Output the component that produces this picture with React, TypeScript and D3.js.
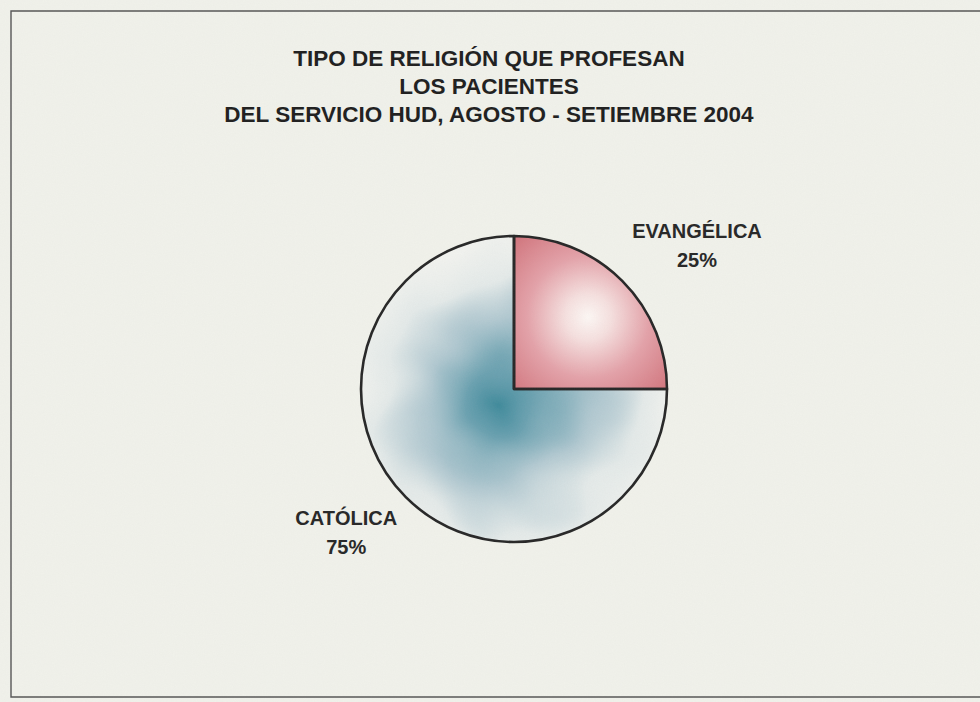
import React from "react";
import * as d3 from "d3";

const categories: string[] = ["EVANGÉLICA", "CATÓLICA"];
const values: number[] = [25, 75];
const percentLabels: string[] = ["25%", "75%"];
const titleLines: string[] = [
  "TIPO DE RELIGIÓN QUE PROFESAN",
  "LOS PACIENTES",
  "DEL  SERVICIO HUD, AGOSTO - SETIEMBRE 2004",
];

// label placement (polar, around each slice's mid angle)
const labelAngleShift: number[] = [0.12, 0.08];
const labelRadius: number[] = [1.52, 1.44];

const App = (): React.JSX.Element => {
  const width = 980;
  const height = 702;
  const cx = 514;
  const cy = 389;
  const r = 153;
  const font = "'Liberation Sans', Arial, sans-serif";

  const pie = d3.pie<number>().sort(null).startAngle(0)(values);
  const arc = d3.arc<d3.PieArcDatum<number>>().innerRadius(0).outerRadius(r);

  return (
    <svg
      width={width}
      height={height}
      style={{ position: "fixed", left: 0, top: 0, display: "block" }}
    >
      <defs>
        <radialGradient id="catGrad" gradientUnits="userSpaceOnUse" cx={cx - 8} cy={cy + 14} r={r * 1.1}>
          <stop offset="0" stopColor="#3f8a9b" />
          <stop offset="0.25" stopColor="#6aa1b0" />
          <stop offset="0.5" stopColor="#b2c9d1" />
          <stop offset="0.75" stopColor="#e4eae9" />
          <stop offset="1" stopColor="#f2f3ef" />
        </radialGradient>
        <radialGradient id="evaGrad" gradientUnits="userSpaceOnUse" cx={cx + 74} cy={cy - 72} r={105}>
          <stop offset="0" stopColor="#fdf8f5" />
          <stop offset="0.22" stopColor="#f6e0df" />
          <stop offset="0.58" stopColor="#e4a2a9" />
          <stop offset="1" stopColor="#d3777f" />
        </radialGradient>
        <filter id="cloud" x="-20%" y="-20%" width="140%" height="140%">
          <feTurbulence type="fractalNoise" baseFrequency="0.012" numOctaves="2" seed="4" result="t" />
          <feDisplacementMap in="SourceGraphic" in2="t" scale="60" xChannelSelector="R" yChannelSelector="G" />
        </filter>
        <filter id="grain">
          <feTurbulence type="fractalNoise" baseFrequency="0.9" numOctaves="1" seed="2" result="n" />
          <feColorMatrix in="n" type="matrix" values="0 0 0 0 0.4  0 0 0 0 0.4  0 0 0 0 0.4  0 0 0 0.12 0" />
        </filter>
        {pie.map((d, i) => (
          <clipPath id={`clip${i}`} key={i}>
            <path d={arc(d) as string} transform={`translate(${cx},${cy})`} />
          </clipPath>
        ))}
      </defs>

      <rect width={width} height={height} fill="#f1f2eb" />

      {/* frame */}
      <path d={`M${width},11 H11 V697 H${width}`} fill="none" stroke="#555" strokeWidth={1.4} />

      {titleLines.map((t, i) => (
        <text
          key={i}
          x={489}
          y={66 + i * 28}
          textAnchor="middle"
          fontFamily={font}
          fontWeight="bold"
          fontSize={22.5}
          fill="#1e1e1e"
        >
          {t}
        </text>
      ))}

      {pie.map((d, i) => (
        <g key={i} clipPath={`url(#clip${i})`}>
          {i === 1 ? (
            <rect x={cx - r - 40} y={cy - r - 40} width={2 * r + 80} height={2 * r + 80} fill="url(#catGrad)" filter="url(#cloud)" />
          ) : (
            <rect x={cx - 10} y={cy - r - 10} width={r + 20} height={r + 20} fill="url(#evaGrad)" />
          )}
        </g>
      ))}

      <g transform={`translate(${cx},${cy})`}>
        {pie.map((d, i) => (
          <path key={i} d={arc(d) as string} fill="none" stroke="#262626" strokeWidth={2.6} strokeLinejoin="round" />
        ))}
      </g>

      {pie.map((d, i) => {
        const a = (d.startAngle + d.endAngle) / 2 + labelAngleShift[i];
        const lr = r * labelRadius[i];
        const x = cx + Math.sin(a) * lr;
        const y = cy - Math.cos(a) * lr;
        return (
          <g key={i} fontFamily={font} fontWeight="bold" fontSize={20} fill="#262626" textAnchor="middle">
            <text x={x} y={y - 7}>{categories[i]}</text>
            <text x={x} y={y + 22}>{percentLabels[i]}</text>
          </g>
        );
      })}

      <rect width={width} height={height} filter="url(#grain)" opacity={0.5} />
    </svg>
  );
};

export default App;
